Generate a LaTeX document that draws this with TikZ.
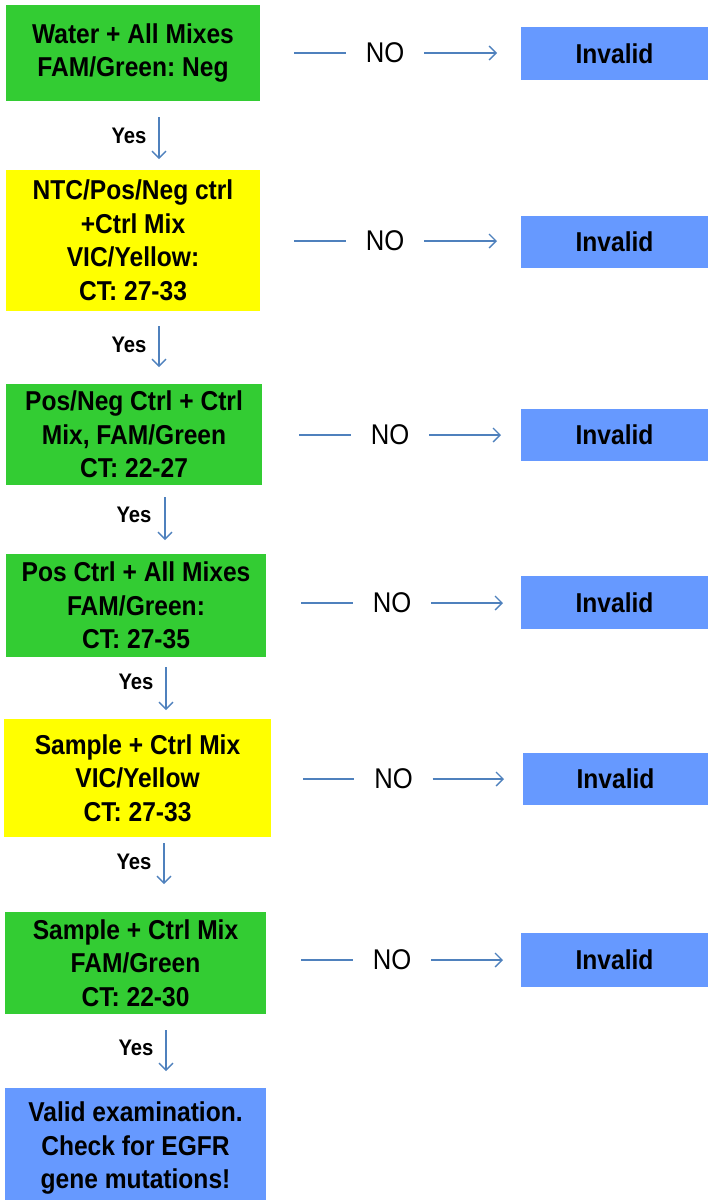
\documentclass[tikz,border=0pt]{standalone}
\usepackage{fontspec}
\setmainfont{Liberation Sans}[FakeStretch=0.9]
\usetikzlibrary{arrows.meta}
\frenchspacing
\definecolor{gfill}{HTML}{33CC33}
\definecolor{yfill}{HTML}{FFFF00}
\definecolor{bfill}{HTML}{6699FF}
\definecolor{lcol}{HTML}{4F81BD}
\tikzset{
  boxbase/.style={inner sep=0pt, align=center, text=black,
    font=\frenchspacing\bfseries\fontsize{27.3}{33.5}\selectfont},
  gbox/.style={boxbase, fill=gfill},
  ybox/.style={boxbase, fill=yfill},
  bbox/.style={boxbase, fill=bfill},
  invbox/.style={boxbase, fill=bfill, minimum width=187pt},
  nolab/.style={inner sep=0pt, minimum width=78pt, minimum height=30pt,
    font=\fontsize{28.5}{30}\selectfont},
  yeslab/.style={inner sep=0pt, font=\bfseries\fontsize{22.5}{24}\selectfont},
  conn/.style={draw=lcol, line width=1.4pt},
  arr/.style={conn, -{Straight Barb[length=7pt,width=14pt,line width=1.3pt]}}
}
\begin{document}
\begin{tikzpicture}[x=1pt,y=-1pt]
\useasboundingbox (0,0) rectangle (708,1200);
% main column boxes
\node[gbox, minimum width=254pt, minimum height=96pt] (s1) at (133,53)
  {Water + All Mixes\\FAM/Green: Neg};
\node[ybox, minimum width=254pt, minimum height=141pt] (s2) at (133,240.5)
  {NTC/Pos/Neg ctrl\\+Ctrl Mix\\VIC/Yellow:\\CT: 27-33};
\node[gbox, minimum width=256pt, minimum height=101pt] (s3) at (134,434.5)
  {Pos/Neg Ctrl + Ctrl\\Mix, FAM/Green\\CT: 22-27};
\node[gbox, minimum width=260pt, minimum height=103pt] (s4) at (136,605.5)
  {Pos Ctrl + All Mixes\\FAM/Green:\\CT: 27-35};
\node[ybox, minimum width=267pt, minimum height=118pt] (s5) at (137.5,778)
  {Sample + Ctrl Mix\\VIC/Yellow\\CT: 27-33};
\node[gbox, minimum width=261pt, minimum height=102pt] (s6) at (135.5,963)
  {Sample + Ctrl Mix\\FAM/Green\\CT: 22-30};
\node[bbox, minimum width=261pt, minimum height=120pt] (s7) at (135.5,1148)
  {Valid examination.\\Check for EGFR\\gene mutations!};
% invalid boxes
\node[invbox, minimum height=53pt] (i1) at (614.5,53.5) {Invalid};
\node[invbox, minimum height=52pt] (i2) at (614.5,242) {Invalid};
\node[invbox, minimum height=52pt] (i3) at (614.5,435) {Invalid};
\node[invbox, minimum height=53pt] (i4) at (614.5,602.5) {Invalid};
\node[invbox, minimum width=185pt, minimum height=52pt] (i5) at (615.5,779) {Invalid};
\node[invbox, minimum height=54pt] (i6) at (614.5,960) {Invalid};
% NO labels
\node[nolab] (n1) at (385,53) {NO};
\node[nolab] (n2) at (385,241) {NO};
\node[nolab] (n3) at (390,435) {NO};
\node[nolab] (n4) at (392,603) {NO};
\node[nolab] (n5) at (393.5,779) {NO};
\node[nolab] (n6) at (392,960) {NO};
% NO connector ends
\coordinate (na1) at (294,53);  \coordinate (nb1) at (497,53);
\coordinate (na2) at (294,241); \coordinate (nb2) at (497,241);
\coordinate (na3) at (299,435); \coordinate (nb3) at (501,435);
\coordinate (na4) at (301,603); \coordinate (nb4) at (503,603);
\coordinate (na5) at (303,779); \coordinate (nb5) at (504,779);
\coordinate (na6) at (301,960); \coordinate (nb6) at (503,960);
\foreach \k in {1,...,6}{
  \draw[conn] (na\k) -- (n\k.west);
  \draw[arr] (n\k.east) -- (nb\k);
}
% Yes labels and arrows
\node[yeslab] (y1) at (129,136) {Yes};
\node[yeslab] (y2) at (129,345) {Yes};
\node[yeslab] (y3) at (134,515) {Yes};
\node[yeslab] (y4) at (136,682) {Yes};
\node[yeslab] (y5) at (134,862) {Yes};
\node[yeslab] (y6) at (136,1048) {Yes};
\coordinate (ya1) at (159,117);  \coordinate (yb1) at (159,159);
\coordinate (ya2) at (159,326);  \coordinate (yb2) at (159,367);
\coordinate (ya3) at (165,497);  \coordinate (yb3) at (165,540);
\coordinate (ya4) at (166,667);  \coordinate (yb4) at (166,710);
\coordinate (ya5) at (164,843);  \coordinate (yb5) at (164,884);
\coordinate (ya6) at (166,1030); \coordinate (yb6) at (166,1071);
\foreach \k in {1,...,6}{
  \draw[arr] (ya\k) -- (yb\k);
}
\end{tikzpicture}
\end{document}
